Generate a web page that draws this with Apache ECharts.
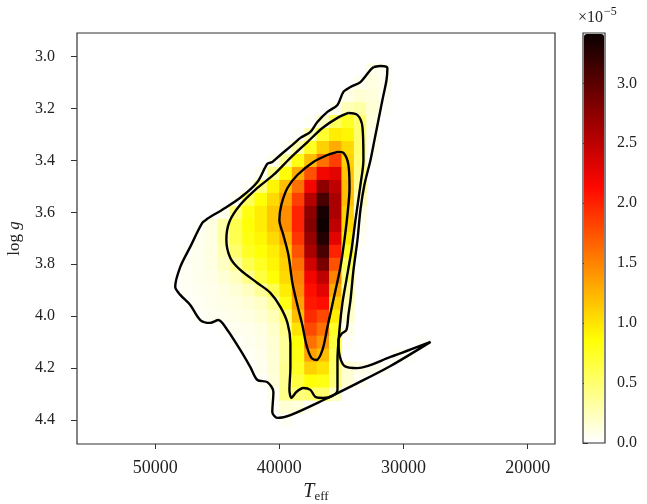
<!DOCTYPE html>
<html>
<head>
<meta charset="utf-8">
<title>Teff - log g density</title>
<script src="https://cdn.jsdelivr.net/npm/echarts@6/dist/echarts.min.js"></script>
<style>
  html, body { margin: 0; padding: 0; background: #fff; }
  #chart { width: 647px; height: 504px; }
</style>
</head>
<body>
<div id="chart"></div>
<script>
// density grid, values in units of 1e-5 (cell centres)
const teffCols = [48500, 47500, 46500, 45500, 44500, 43500, 42500, 41500, 40500, 39500, 38500,
  37500, 36500, 35500, 34500, 33500, 32500, 31500, 30500, 29500, 28500, 27500];
const loggRows = [3.05, 3.10, 3.15, 3.20, 3.25, 3.30, 3.35, 3.40, 3.45, 3.50, 3.55, 3.60, 3.65, 3.70,
  3.75, 3.80, 3.85, 3.90, 3.95, 4.00, 4.05, 4.10, 4.15, 4.20, 4.25, 4.30, 4.35, 4.40];
const density = [
  [0, 0, 0, 0, 0, 0, 0, 0, 0, 0, 0, 0, 0, 0, 0, 0, 0.08, 0.04, 0, 0, 0, 0],
  [0, 0, 0, 0, 0, 0, 0, 0, 0, 0, 0, 0, 0, 0, 0, 0.05, 0.1, 0.05, 0, 0, 0, 0],
  [0, 0, 0, 0, 0, 0, 0, 0, 0, 0, 0, 0, 0, 0, 0.08, 0.15, 0.12, 0.03, 0, 0, 0, 0],
  [0, 0, 0, 0, 0, 0, 0, 0, 0, 0, 0, 0, 0, 0.06, 0.25, 0.3, 0.14, 0.02, 0, 0, 0, 0],
  [0, 0, 0, 0, 0, 0, 0, 0, 0, 0, 0, 0.02, 0.2, 0.55, 0.75, 0.5, 0.12, 0, 0, 0, 0, 0],
  [0, 0, 0, 0, 0, 0, 0, 0, 0, 0, 0.02, 0.25, 0.7, 0.95, 0.9, 0.5, 0.08, 0, 0, 0, 0, 0],
  [0, 0, 0, 0, 0, 0, 0, 0, 0, 0.03, 0.3, 0.75, 1.1, 1.3, 1.05, 0.5, 0.05, 0, 0, 0, 0, 0],
  [0, 0, 0, 0, 0, 0, 0, 0, 0.06, 0.35, 0.8, 1.2, 1.6, 1.85, 1.1, 0.45, 0.02, 0, 0, 0, 0, 0],
  [0, 0, 0, 0, 0, 0, 0, 0.05, 0.4, 0.85, 1.3, 1.75, 2.2, 2.3, 1.15, 0.4, 0, 0, 0, 0, 0, 0],
  [0, 0, 0, 0, 0, 0, 0.03, 0.45, 0.9, 1.2, 1.6, 2.2, 2.75, 2.5, 1.2, 0.35, 0, 0, 0, 0, 0, 0],
  [0, 0, 0, 0, 0, 0.03, 0.55, 0.85, 1.05, 1.35, 1.85, 2.55, 3.1, 2.6, 1.2, 0.22, 0, 0, 0, 0, 0, 0],
  [0, 0, 0, 0, 0.05, 0.45, 0.8, 0.95, 1.15, 1.45, 2.0, 2.75, 3.35, 2.6, 1.1, 0.08, 0, 0, 0, 0, 0, 0],
  [0, 0, 0.02, 0.1, 0.3, 0.6, 0.85, 0.95, 1.15, 1.45, 2.0, 2.8, 3.4, 2.5, 1.05, 0.05, 0, 0, 0, 0, 0, 0],
  [0, 0, 0.05, 0.1, 0.3, 0.6, 0.8, 0.9, 1.05, 1.3, 1.9, 2.7, 3.3, 2.3, 0.95, 0.03, 0, 0, 0, 0, 0, 0],
  [0, 0.02, 0.06, 0.1, 0.25, 0.5, 0.75, 0.85, 0.95, 1.15, 1.75, 2.6, 3.1, 2.0, 0.75, 0, 0, 0, 0, 0, 0, 0],
  [0, 0.04, 0.06, 0.1, 0.2, 0.35, 0.6, 0.75, 0.9, 1.1, 1.6, 2.4, 2.85, 1.75, 0.55, 0, 0, 0, 0, 0, 0, 0],
  [0.01, 0.04, 0.06, 0.08, 0.14, 0.22, 0.4, 0.65, 0.85, 1.05, 1.5, 2.2, 2.5, 1.5, 0.45, 0, 0, 0, 0, 0, 0, 0],
  [0, 0.03, 0.05, 0.07, 0.1, 0.14, 0.22, 0.35, 0.6, 0.95, 1.45, 2.1, 2.3, 1.3, 0.35, 0, 0, 0, 0, 0, 0, 0],
  [0, 0.01, 0.04, 0.06, 0.08, 0.1, 0.14, 0.2, 0.35, 0.8, 1.35, 2.05, 2.1, 1.1, 0.25, 0, 0, 0, 0, 0, 0, 0],
  [0, 0, 0.02, 0.05, 0.06, 0.08, 0.1, 0.15, 0.25, 0.5, 1.2, 1.95, 1.8, 0.95, 0.18, 0, 0, 0, 0, 0, 0, 0],
  [0, 0, 0, 0, 0.01, 0.05, 0.07, 0.1, 0.18, 0.4, 1.0, 1.8, 1.6, 0.75, 0.08, 0, 0, 0, 0, 0, 0, 0],
  [0, 0, 0, 0, 0, 0.02, 0.05, 0.08, 0.15, 0.35, 0.85, 1.6, 1.4, 0.65, 0.03, 0, 0, 0, 0, 0, 0.02, 0],
  [0, 0, 0, 0, 0, 0, 0.03, 0.07, 0.14, 0.35, 0.8, 1.35, 1.2, 0.55, 0, 0, 0, 0, 0.04, 0.02, 0, 0],
  [0, 0, 0, 0, 0, 0, 0.01, 0.05, 0.14, 0.38, 0.75, 1.1, 1.0, 0.5, 0.15, 0.08, 0.06, 0.03, 0, 0, 0, 0],
  [0, 0, 0, 0, 0, 0, 0, 0.02, 0.12, 0.38, 0.65, 0.85, 0.8, 0.45, 0.15, 0.04, 0, 0, 0, 0, 0, 0],
  [0, 0, 0, 0, 0, 0, 0, 0, 0.06, 0.4, 0.45, 0.5, 0.5, 0.2, 0, 0, 0, 0, 0, 0, 0, 0],
  [0, 0, 0, 0, 0, 0, 0, 0, 0.03, 0.15, 0.12, 0.04, 0, 0, 0, 0, 0, 0, 0, 0, 0, 0],
  [0, 0, 0, 0, 0, 0, 0, 0, 0, 0.03, 0, 0, 0, 0, 0, 0, 0, 0, 0, 0, 0, 0]
];

// contour lines [Teff, log g]
const contourOuter = [
  [32400, 3.040], [31850, 3.036], [31300, 3.044], [31370, 3.090], [31700, 3.167], [32020, 3.244],
  [32340, 3.321], [32660, 3.398], [33150, 3.494], [33470, 3.590], [33710, 3.706], [34030, 3.822],
  [34270, 3.937], [34440, 3.995], [34600, 4.053], [35000, 4.069], [35240, 4.092], [35160, 4.150],
  [34760, 4.192], [33710, 4.200], [31050, 4.157], [27820, 4.099], [31050, 4.192], [33710, 4.258],
  [36450, 4.323], [39110, 4.381], [40160, 4.392], [40570, 4.369], [40480, 4.292], [40970, 4.254],
  [41770, 4.246], [42340, 4.196], [43150, 4.130], [44190, 4.053], [44920, 4.015], [45570, 4.026],
  [46370, 4.015], [47180, 3.957], [47980, 3.918], [48390, 3.887], [47980, 3.810], [47180, 3.733],
  [46210, 3.641], [45810, 3.625], [44600, 3.590], [43150, 3.544], [41770, 3.483], [40970, 3.413],
  [40570, 3.406], [39920, 3.379], [38950, 3.340], [38310, 3.313], [37500, 3.290], [36940, 3.252],
  [36130, 3.213], [35320, 3.186], [34840, 3.136], [34270, 3.117], [33470, 3.098], [32660, 3.051],
  [32400, 3.040]
];
const contourMiddle = [
  [34440, 3.217], [33710, 3.225], [33310, 3.271], [33230, 3.398], [33470, 3.494], [33870, 3.629],
  [34190, 3.745], [34600, 3.860], [34920, 3.949], [35160, 4.053], [35320, 4.169], [35320, 4.284],
  [35730, 4.307], [36450, 4.315], [37100, 4.311], [37500, 4.284], [38060, 4.277], [38630, 4.292],
  [39030, 4.315], [39190, 4.284], [39110, 4.196], [39110, 4.103], [39350, 4.026], [39920, 3.964],
  [40730, 3.910], [41770, 3.872], [43150, 3.822], [43950, 3.776], [44270, 3.706], [44030, 3.637],
  [43150, 3.571], [41770, 3.506], [40480, 3.456], [39110, 3.390], [37740, 3.329], [36530, 3.275],
  [35320, 3.236], [34440, 3.217]
];
const contourInner = [
  [35320, 3.367], [34840, 3.371], [34440, 3.417], [34350, 3.506], [34520, 3.610], [34760, 3.706],
  [35080, 3.810], [35650, 3.937], [36130, 4.042], [36530, 4.130], [37020, 4.169], [37420, 4.161],
  [37820, 4.111], [38150, 4.034], [38550, 3.957], [38950, 3.872], [39270, 3.764], [39680, 3.687],
  [40000, 3.629], [39840, 3.571], [39350, 3.506], [38550, 3.456], [37260, 3.406], [36130, 3.379],
  [35320, 3.367]
];

const xTicks = [20000, 30000, 40000, 50000];
const yTicks = [3.0, 3.2, 3.4, 3.6, 3.8, 4.0, 4.2, 4.4];
const cbarTicks = [0, 0.5, 1.0, 1.5, 2.0, 2.5, 3.0];
const cbarMax = 3.42;

const FONT = 'Liberation Serif';
const INK = '#222';

// cells for the custom series
const cells = [];
loggRows.forEach((g, i) => {
  teffCols.forEach((t, j) => {
    const v = density[i][j];
    if (v > 0) cells.push([t, g, v]);
  });
});
const halfT = (teffCols[0] - teffCols[1]) / 2;
const halfG = (loggRows[1] - loggRows[0]) / 2;

function renderCell(params, api) {
  const a = api.coord([api.value(0) + halfT, api.value(1) - halfG]);
  const b = api.coord([api.value(0) - halfT, api.value(1) + halfG]);
  return {
    type: 'rect',
    shape: {
      x: Math.min(a[0], b[0]),
      y: Math.min(a[1], b[1]),
      width: Math.abs(b[0] - a[0]) + 0.6,
      height: Math.abs(b[1] - a[1]) + 0.6
    },
    style: { fill: api.visual('color') }
  };
}

function contour(data) {
  return {
    type: 'line',
    xAxisIndex: 0,
    yAxisIndex: 0,
    data: data,
    smooth: 0.3,
    symbol: 'none',
    silent: true,
    z: 5,
    lineStyle: { color: '#000', width: 2.4 }
  };
}

const tickLabel = { color: INK, fontFamily: FONT };

const chart = echarts.init(document.getElementById('chart'));
chart.setOption({
  animation: false,
  backgroundColor: '#fff',
  grid: [
    {
      left: 77, top: 33, right: 92, bottom: 60, outerBoundsMode: 'none',
      show: true, borderColor: '#333', borderWidth: 1.2, backgroundColor: 'transparent'
    },
    {
      left: 583, top: 33, width: 22, height: 410, outerBoundsMode: 'none',
      show: true, borderColor: '#333', borderWidth: 1.2, backgroundColor: 'transparent'
    }
  ],
  xAxis: [
    {
      type: 'value', gridIndex: 0, inverse: true, min: 17800, max: 56300,
      name: '{i|T}{s|eff}', nameLocation: 'middle', nameGap: 37,
      nameTextStyle: {
        rich: {
          i: { fontFamily: FONT, fontStyle: 'italic', fontSize: 20, color: INK },
          s: { fontFamily: FONT, fontSize: 13, color: INK, padding: [9, 0, 0, 0] }
        }
      },
      splitLine: { show: false },
      axisLine: { show: false },
      axisTick: { show: true, length: 5, lineStyle: { color: '#333' }, customValues: xTicks },
      axisLabel: { ...tickLabel, fontSize: 18, margin: 15, customValues: xTicks, formatter: (v) => String(v) }
    },
    { type: 'value', gridIndex: 1, show: false, min: 0, max: 1 }
  ],
  yAxis: [
    {
      type: 'value', gridIndex: 0, inverse: true, min: 2.909, max: 4.4925,
      name: '{n|log }{i|g}', nameLocation: 'middle', nameGap: 54, nameRotate: 90,
      nameTextStyle: {
        rich: {
          n: { fontFamily: FONT, fontSize: 17, color: INK },
          i: { fontFamily: FONT, fontStyle: 'italic', fontSize: 17, color: INK }
        }
      },
      splitLine: { show: false },
      axisLine: { show: false },
      axisTick: { show: true, length: 6, lineStyle: { color: '#333' }, customValues: yTicks },
      axisLabel: { ...tickLabel, fontSize: 16, margin: 22, customValues: yTicks, formatter: (v) => v.toFixed(1) }
    },
    {
      type: 'value', gridIndex: 1, position: 'right', min: 0, max: cbarMax,
      splitLine: { show: false },
      axisLine: { show: false },
      axisTick: { show: true, length: 5, lineStyle: { color: '#333' }, customValues: cbarTicks },
      axisLabel: { ...tickLabel, fontSize: 16, margin: 12, customValues: cbarTicks, formatter: (v) => v.toFixed(1) }
    }
  ],
  visualMap: {
    type: 'continuous',
    seriesIndex: 0,
    dimension: 2,
    min: 0,
    max: cbarMax,
    calculable: false,
    realtime: false,
    hoverLink: false,
    left: 584,
    top: 34,
    itemWidth: 20,
    itemHeight: 408,
    padding: 0,
    text: null,
    inRange: {
      // matplotlib hot_r
      color: ['#ffffff', '#ffff82', '#ffff04', '#ffae00', '#ff5a00', '#ff0700', '#b20000', '#5e0000', '#0b0000']
    }
  },
  graphic: [
    {
      type: 'text', left: 578, top: 6,
      style: {
        text: '{a|×10}{b|−5}',
        rich: {
          a: { fontFamily: FONT, fontSize: 16, fill: INK, padding: [6, 0, 0, 0] },
          b: { fontFamily: FONT, fontSize: 12, fill: INK, padding: [0, 0, 6, 1] }
        }
      }
    }
  ],
  series: [
    {
      type: 'custom',
      xAxisIndex: 0,
      yAxisIndex: 0,
      renderItem: renderCell,
      data: cells,
      silent: true,
      z: 1
    },
    contour(contourOuter),
    contour(contourMiddle),
    contour(contourInner)
  ]
});
</script>
</body>
</html>
